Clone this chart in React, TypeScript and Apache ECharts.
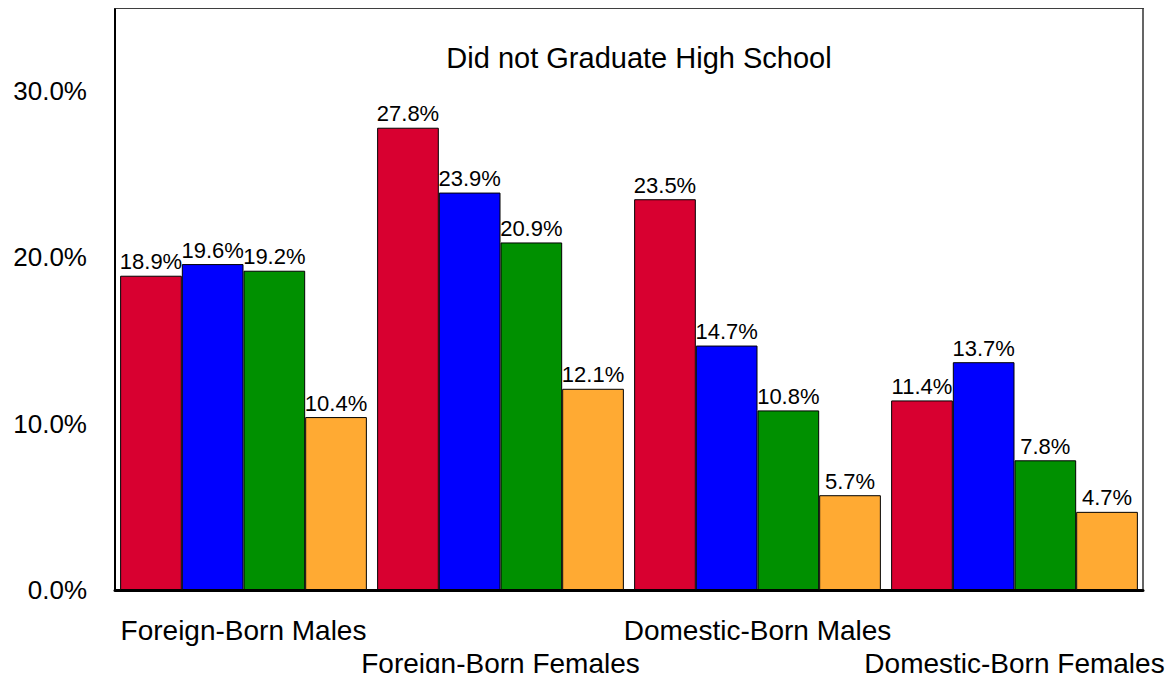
import React, { useEffect, useRef } from "react";
import * as echarts from "echarts";

const categories = [
  "Foreign-Born Males",
  "Foreign-Born Females",
  "Domestic-Born Males",
  "Domestic-Born Females",
];
const seriesNames = ["Group 1", "Group 2", "Group 3", "Group 4"];
const seriesColors = ["#D80030", "#0000FF", "#009000", "#FFAA33"];
const group1 = [18.9, 27.8, 23.5, 11.4];
const group2 = [19.6, 23.9, 14.7, 13.7];
const group3 = [19.2, 20.9, 10.8, 7.8];
const group4 = [10.4, 12.1, 5.7, 4.7];
const seriesValues = [group1, group2, group3, group4];
const titleText = "Did not Graduate High School";

const FONT = "'Liberation Sans', Arial, Helvetica, sans-serif";

export default function App() {
  const ref = useRef<HTMLDivElement>(null);
  useEffect(() => {
    if (!ref.current) return;
    const chart = echarts.init(ref.current, undefined, { renderer: "svg" });
    chart.setOption({
      animation: false,
      backgroundColor: "#ffffff",
      title: {
        text: titleText,
        left: 634,
        top: 38,
        textAlign: "center",
        textStyle: { fontFamily: FONT, fontSize: 29, fontWeight: "normal", color: "#000" },
      },
      grid: {
        left: 115,
        right: 31,
        top: 8,
        bottom: 91,
        show: true,
        borderColor: "#333",
        borderWidth: 1.5,
        backgroundColor: "transparent",
      },
      graphic: [
        {
          type: "line",
          shape: { x1: 114, y1: 8, x2: 1144, y2: 8 },
          style: { stroke: "#333", lineWidth: 1.5 },
          z: 10,
        },
      ],
      xAxis: {
        type: "category",
        data: categories,
        axisLine: { show: true, lineStyle: { color: "#000", width: 3 } },
        axisTick: { show: false },
        axisLabel: {
          interval: 0,
          fontFamily: FONT,
          fontSize: 28,
          color: "#000",
          margin: 24,
          lineHeight: 33,
          formatter: (v: string, i: number) => (i % 2 ? "\n" + v : v),
        },
      },
      yAxis: {
        type: "value",
        min: 0,
        max: 35,
        interval: 10,
        axisLine: { show: true, lineStyle: { color: "#000", width: 2 } },
        axisTick: { show: false },
        splitLine: { show: false },
        axisLabel: {
          fontFamily: FONT,
          fontSize: 26,
          color: "#000",
          margin: 28,
          showMaxLabel: false,
          formatter: (v: number) => (v % 10 === 0 ? v.toFixed(1) + "%" : ""),
        },
      },
      series: seriesValues.map((vals, i) => ({
        name: seriesNames[i],
        type: "bar",
        data: vals,
        barGap: "0%",
        barCategoryGap: "4%",
        itemStyle: { color: seriesColors[i], borderColor: "#000", borderWidth: 1 },
        label: {
          show: true,
          position: "top",
          distance: 3,
          fontFamily: FONT,
          fontSize: 22,
          color: "#000",
          formatter: (p: any) => Number(p.value).toFixed(1) + "%",
        },
      })),
    });
    return () => chart.dispose();
  }, []);
  return <div ref={ref} style={{ width: 1174, height: 681, margin: -8 }} />;
}
